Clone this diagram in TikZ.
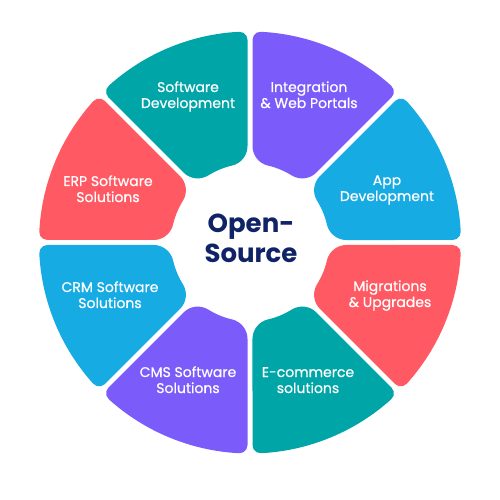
\documentclass[tikz,border=0pt]{standalone}
\usepackage{fontspec}
\setmainfont{Poppins}
\newfontfamily\lblfont{Poppins}[FakeBold=0.6]
\usetikzlibrary{calc}
\definecolor{cteal}{HTML}{00A5A8}
\definecolor{cpurple}{HTML}{7B5CFA}
\definecolor{cblue}{HTML}{17ABE3}
\definecolor{cred}{HTML}{FF5A63}
\definecolor{cnavy}{HTML}{102366}
\def\Ro{211}\def\Ri{79}\def\Gp{2.5}\def\Fo{8}\def\Fi{20}
\newcommand\segment[3]{%
 \pgfmathsetmacro\sO{10*sqrt(((\Ro-\Fo)/10)^2-((\Gp+\Fo)/10)^2)}%
 \pgfmathsetmacro\aO{atan((\Gp+\Fo)/\sO)}%
 \pgfmathsetmacro\sI{10*sqrt(((\Ri+\Fi)/10)^2-((\Gp+\Fi)/10)^2)}%
 \pgfmathsetmacro\aI{atan((\Gp+\Fi)/\sI)}%
 \fill[#3] ($(#1:\sO pt)+(#1+90:\Gp pt)$)
   arc[start angle=#1-90, end angle=#1+\aO, radius=\Fo pt]
   arc[start angle=#1+\aO, end angle=#2-\aO, radius=\Ro pt]
   arc[start angle=#2-\aO, end angle=#2+90, radius=\Fo pt]
   -- ($(#2:\sI pt)+(#2-90:\Gp pt)$)
   arc[start angle=#2+90, end angle=#2-\aI+180, radius=\Fi pt]
   arc[start angle=#2-\aI, end angle=#1+\aI, radius=\Ri pt]
   arc[start angle=#1+\aI+180, end angle=#1+270, radius=\Fi pt]
   -- cycle;}
\newcommand\lbl[1]{\begin{tabular}[t]{@{}c@{}}#1\end{tabular}}
\begin{document}
\begin{tikzpicture}[x=1pt,y=1pt,
  label text/.style={font=\lblfont\fontsize{14}{16}\selectfont, text=white, inner sep=0pt, anchor=base},
  title text/.style={font=\fontsize{26}{30}\selectfont\bfseries, text=cnavy, inner sep=0pt, anchor=base}]
\useasboundingbox (-250,-257.5) rectangle (250,242.5);
\segment{90}{135}{cteal}
\segment{45}{90}{cpurple}
\segment{0}{45}{cblue}
\segment{-45}{0}{cred}
\segment{-90}{-45}{cteal}
\segment{-135}{-90}{cpurple}
\segment{180}{225}{cblue}
\segment{135}{180}{cred}
\node[label text] (sd) at (-62,150.5) {\lbl{Software\\Development}};
\node[label text] (iw) at (59,150.5) {\lbl{Integration\\\& Web Portals}};
\node[label text] (erp) at (-142,56.5) {\lbl{ERP Software\\Solutions}};
\node[label text] (app) at (137,57.5) {\lbl{App\\Development}};
\node[label text] (crm) at (-140,-49.5) {\lbl{CRM Software\\Solutions}};
\node[label text] (mig) at (140,-48.5) {\lbl{Migrations\\\& Upgrades}};
\node[label text] (cms) at (-62,-134.5) {\lbl{CMS Software\\Solutions}};
\node[label text] (ecom) at (58,-134.5) {\lbl{E-commerce\\solutions}};
\node[title text] (os) at (1,9.5) {\lbl{Open-\\Source}};
\end{tikzpicture}
\end{document}
